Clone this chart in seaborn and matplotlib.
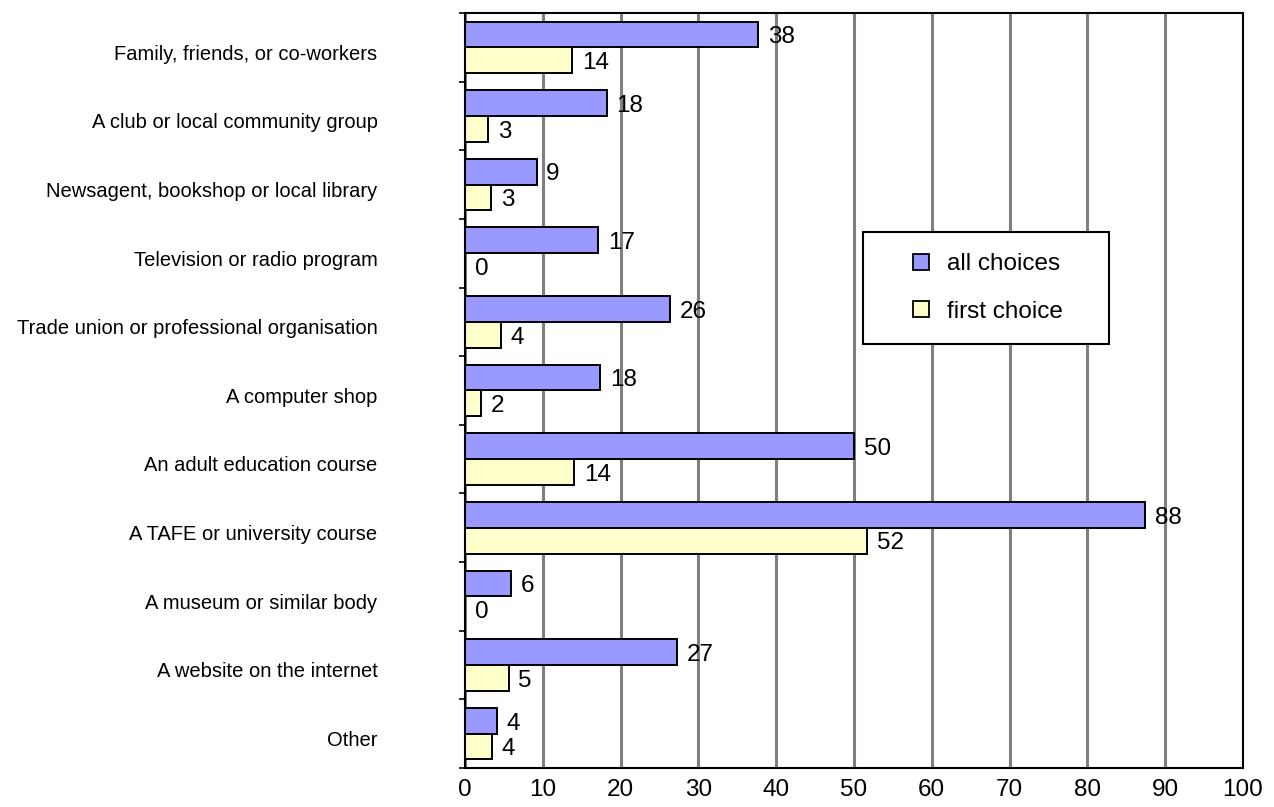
import numpy as np
import pandas as pd
import matplotlib
matplotlib.use("Agg")
import matplotlib.pyplot as plt
import matplotlib.transforms as mtransforms
import seaborn as sns
from matplotlib.patches import Rectangle
from matplotlib.lines import Line2D

categories = [
    "Family, friends, or co-workers",
    "A club or local community group",
    "Newsagent, bookshop or local library",
    "Television or radio program",
    "Trade union or professional organisation",
    "A computer shop",
    "An adult education course",
    "A TAFE or university course",
    "A museum or similar body",
    "A website on the internet",
    "Other",
]
all_choices = [37.7, 18.2, 9.2, 17.1, 26.4, 17.4, 50.0, 87.4, 5.9, 27.2, 4.1]
first_choice = [13.8, 3.0, 3.4, 0.0, 4.6, 2.0, 14.0, 51.7, 0.0, 5.6, 3.5]
all_labels = [38, 18, 9, 17, 26, 18, 50, 88, 6, 27, 4]
first_labels = [14, 3, 3, 0, 4, 2, 14, 52, 0, 5, 4]
series_names = ["all choices", "first choice"]
series_colors = ["#9999FF", "#FFFFCC"]
x_ticks = list(range(0, 101, 10))

df = pd.DataFrame({
    "category": categories * 2,
    "value": all_choices + first_choice,
    "series": [series_names[0]] * len(categories) + [series_names[1]] * len(categories),
})

sns.set_style("white")
plt.rcParams["font.family"] = ["Liberation Sans", "DejaVu Sans"]
plt.rcParams["text.color"] = "black"
plt.rcParams["xtick.color"] = "black"
plt.rcParams["ytick.color"] = "black"

fig = plt.figure(figsize=(12.74, 8.07), dpi=100)
ax = fig.add_axes([465 / 1274, 1 - 768 / 807, (1243 - 465) / 1274, (768 - 13) / 807])

sns.barplot(
    data=df, y="category", x="value", hue="series", order=categories,
    hue_order=series_names, palette=series_colors, orient="h", width=0.75,
    edgecolor="black", linewidth=1.4, saturation=1, legend=False, ax=ax,
)

for cont, labs in zip(ax.containers, [all_labels, first_labels]):
    texts = ax.bar_label(cont, labels=[str(v) for v in labs], padding=7, fontsize=17.5, color="black")
    for t in texts:
        xo, yo = t.xyann
        t.xyann = (xo, yo - 2.0)

ax.set_xlim(0, 100)
ax.set_ylim(len(categories) - 0.5, -0.5)
ax.set_xticks(x_ticks)
ax.set_xticklabels([str(t) for t in x_ticks], fontsize=17.5)
ax.set_yticks(range(len(categories)))
ax.set_yticklabels(categories, fontsize=14.5)
ax.set_yticks(np.arange(-0.5, len(categories)), minor=True)
ax.tick_params(axis="y", which="major", length=0, pad=63)
ax.tick_params(axis="y", which="minor", length=4, width=1.2, direction="out", left=True)
ax.tick_params(axis="x", which="both", length=0, pad=8)
ax.set_xlabel("")
ax.set_ylabel("")

down = mtransforms.ScaledTranslation(0, -3.5 / 72, fig.dpi_scale_trans)
for lbl in ax.get_yticklabels():
    lbl.set_transform(lbl.get_transform() + down)

ax.set_axisbelow(True)
ax.xaxis.grid(True, color="#808080", linewidth=2.2)
ax.yaxis.grid(False)
for s in ax.spines.values():
    s.set_visible(True)
    s.set_color("black")
    s.set_linewidth(1.5)

# legend frame
x0 = (863 - 465) / 778
x1 = (1109 - 465) / 778
y1 = 1 - (232 - 13) / 755
y0 = 1 - (344 - 13) / 755
ax.add_patch(Rectangle((x0, y0), x1 - x0, y1 - y0, transform=ax.transAxes,
                       facecolor="white", edgecolor="black", linewidth=1.5, zorder=5))
handles = [Line2D([], [], linestyle="none", marker="s", markersize=11,
                  markerfacecolor=c, markeredgecolor="black", markeredgewidth=1.3)
           for c in series_colors]
leg = ax.legend(handles, series_names, loc="center",
                bbox_to_anchor=((x0 + x1) / 2, (y0 + y1) / 2), bbox_transform=ax.transAxes,
                frameon=False, fontsize=17.5, handlelength=1.0, handletextpad=0.55,
                labelspacing=1.05)
leg.set_zorder(6)

fig.savefig("out.png", dpi=100)
